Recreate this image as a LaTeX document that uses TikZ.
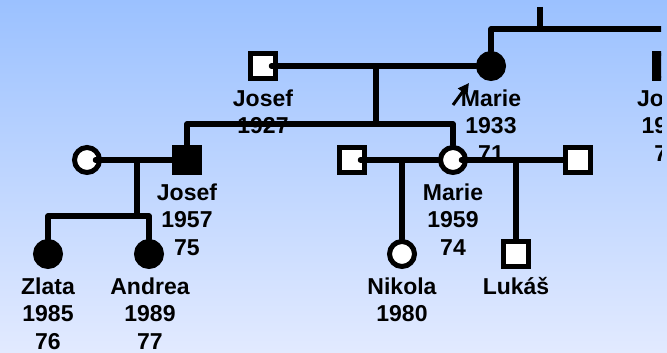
\documentclass[tikz,border=0pt]{standalone}
\usepackage{fontspec}
\setmainfont{Liberation Sans}
\usetikzlibrary{calc,arrows.meta}
\definecolor{bgtop}{RGB}{155,193,255}
\definecolor{bgbot}{RGB}{226,234,255}
\begin{document}
\begin{tikzpicture}[x=1pt,y=1pt,
  person/.style={draw=black, line width=5pt, minimum size=25pt, inner sep=0pt},
  male/.style={person, rectangle},
  female/.style={person, circle},
  affected/.style={fill=black},
  healthy/.style={fill=white},
  link/.style={line width=5.5pt, line cap=round, line join=round},
  tag/.style={anchor=base, align=center, inner sep=0pt,
              font=\bfseries\fontsize{23}{27.5}\selectfont}
]
% background
\fill[top color=bgtop, bottom color=bgbot] (0,0) rectangle (667,353);
\useasboundingbox (0,0) rectangle (667,353);

\begin{scope}
\clip (0,0) rectangle (661,353);

% generation I
\node[male, healthy]    (josefA) at (263,287) {};
\node[female, affected] (marieA) at (491,287) {};
\node[male, affected]   (josefR) at (667,287) {};

% generation II
\node[female, healthy]  (wife)   at (87,193)  {};
\node[male, affected]   (josefB) at (187,193) {};
\node[male, healthy]    (husb1)  at (352,193) {};
\node[female, healthy]  (marieB) at (453,193) {};
\node[male, healthy]    (husb2)  at (578,193) {};

% generation III
\node[female, affected] (zlata)  at (48,99)  {};
\node[female, affected] (andrea) at (149,99) {};
\node[female, healthy]  (nikola) at (402,99) {};
\node[male, healthy]    (lukas)  at (516,99) {};

% helper points of the line system
\coordinate (topsib)  at (540,324);
\coordinate (toptick) at (540,346);
\coordinate (mate1)   at (376,287);
\coordinate (sib1)    at (376,229);
\coordinate (mate2)   at (137,193);
\coordinate (sib2)    at (137,137);
\coordinate (nikdrop) at (402,193);
\coordinate (lukdrop) at (516,193);

% parents of Marie (1933) and her sibling
\draw[line width=5.5pt] (toptick) -- (topsib);
\draw[link] (marieA.north) -- (marieA |- topsib) -- (josefR |- topsib) -- (josefR.north);

% couple Josef (1927) -- Marie (1933) and their children
\draw[link] ($(josefA.east)+(-6.5,0)$) -- (marieA.west);
\draw[link] (mate1) -- (sib1);
\draw[link] (josefB.north) -- (josefB |- sib1) -- (marieB |- sib1) -- (marieB.north);

% couple of Josef (1957) and their daughters
\draw[link] ($(wife.east)+(-6.5,0)$) -- (josefB.west);
\draw[link] (mate2) -- (sib2);
\draw[link] (zlata.north) -- (zlata |- sib2) -- (andrea |- sib2) -- (andrea.north);

% partners of Marie (1959) and their children
\draw[link] ($(husb1.east)+(-6.5,0)$) -- (marieB.west);
\draw[link] ($(marieB.east)+(-6.5,0)$) -- (husb2.west);
\draw[link] (nikdrop) -- (nikola.north);
\draw[link] (lukdrop) -- (lukas.north);

% proband arrow
\coordinate (probtail) at (453,248);
\coordinate (probtip)  at (469,270);
\draw[line width=3pt, -{Triangle[length=11pt,width=11pt]}] (probtail) -- (probtip);

% names, years of birth, ages (anchored on the baseline of the last line)
\node[tag] (josefAt) at ($(josefA)+(0,-68)$)   {Josef\\1927};
\node[tag] (marieAt) at ($(marieA)+(0,-95.5)$) {Marie\\1933\\71};
\node[tag, anchor=base west] (josefRt1) at (637,246.5) {Jo};
\node[tag, anchor=base west] (josefRt2) at (641.4,219) {19};
\node[tag, anchor=base west] (josefRt3) at (654.2,191.5) {7};
\node[tag] (josefBt) at ($(josefB)+(0,-95.5)$) {Josef\\1957\\75};
\node[tag] (marieBt) at ($(marieB)+(0,-95.5)$) {Marie\\1959\\74};
\node[tag] (zlatat)  at ($(zlata)+(0,-95.5)$)  {Zlata\\1985\\76};
\node[tag] (andreat) at ($(andrea)+(1,-95.5)$) {Andrea\\1989\\77};
\node[tag] (nikolat) at ($(nikola)+(0,-68)$)   {Nikola\\1980};
\node[tag] (lukast)  at ($(lukas)+(0,-40.5)$)  {Lukáš};
\end{scope}
\end{tikzpicture}
\end{document}
